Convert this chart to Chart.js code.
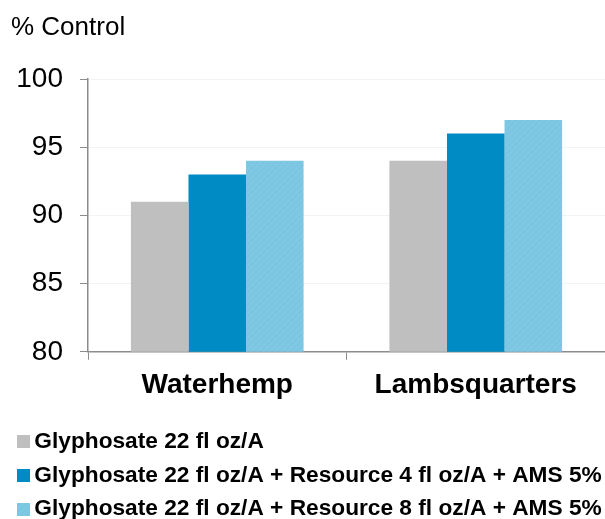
<!DOCTYPE html>
<html>
<head>
<meta charset="utf-8">
<script src="https://cdn.jsdelivr.net/npm/chart.js@4"></script>
<style>
html,body{margin:0;padding:0;background:#fff;}
#wrap{width:605px;height:519px;position:relative;}
</style>
</head>
<body>
<div id="wrap"><canvas id="c" width="605" height="519"></canvas></div>
<script>
const categories = ["Waterhemp", "Lambsquarters"];
const seriesNames = [
  "Glyphosate 22 fl oz/A",
  "Glyphosate 22 fl oz/A + Resource 4 fl oz/A + AMS 5%",
  "Glyphosate 22 fl oz/A + Resource 8 fl oz/A + AMS 5%"
];
const glyphosate = [91, 94];
const resource4 = [93, 96];
const resource8 = [94, 97];
const yTicks = [80, 85, 90, 95, 100];
const colors = ["#BFBFBF", "#008BC4", "#7FC8E4"];

const FONT = "'Liberation Sans', Arial, sans-serif";
const values = [glyphosate, resource4, resource8];

// subtle diagonal hatch for the light-blue series
function hatch(base, line) {
  const c = document.createElement('canvas');
  c.width = 6; c.height = 6;
  const g = c.getContext('2d');
  g.fillStyle = base; g.fillRect(0, 0, 6, 6);
  g.strokeStyle = line; g.lineWidth = 1;
  g.beginPath();
  g.moveTo(0, 6); g.lineTo(6, 0);
  g.moveTo(-3, 3); g.lineTo(3, -3);
  g.moveTo(3, 9); g.lineTo(9, 3);
  g.stroke();
  return g.createPattern(c, 'repeat');
}
const fills = [colors[0], colors[1], hatch(colors[2], '#79C2DF')];

// legend marker images: square sits at the right of a 15px-wide image
function marker(fill) {
  const c = document.createElement('canvas');
  c.width = 15; c.height = 13;
  const g = c.getContext('2d');
  g.fillStyle = fill;
  g.fillRect(2, 0, 13, 13);
  return c;
}
const markers = [marker(colors[0]), marker(colors[1]), marker(hatch(colors[2], '#79C2DF'))];

new Chart(document.getElementById('c'), {
  type: 'bar',
  data: {
    labels: categories,
    datasets: seriesNames.map((n, i) => ({
      label: n,
      data: values[i],
      backgroundColor: fills[i],
      borderWidth: 0,
      categoryPercentage: 0.668,
      barPercentage: 1.0
    }))
  },
  options: {
    responsive: false,
    animation: false,
    layout: { padding: { left: 11, right: 0, top: 0, bottom: -11.5 } },
    plugins: {
      title: {
        display: true,
        text: '% Control',
        align: 'start',
        color: '#000',
        font: { family: FONT, size: 26, weight: 'normal', lineHeight: 1.2 },
        padding: { top: 12, bottom: 35.8 }
      },
      legend: {
        position: 'bottom',
        align: 'start',
        labels: {
          color: '#000',
          font: { family: FONT, size: 22.7, weight: 'bold' },
          usePointStyle: true,
          boxWidth: 1,
          boxHeight: 13,
          padding: 11,
          generateLabels: (chart) => {
            const items = Chart.defaults.plugins.legend.labels.generateLabels(chart);
            items.forEach((it, i) => { it.pointStyle = markers[i]; });
            return items;
          }
        }
      },
      tooltip: { enabled: false }
    },
    scales: {
      y: {
        min: 80, max: 100,
        afterBuildTicks: s => { s.ticks = yTicks.map(v => ({ value: v })); },
        afterFit: s => { s.width = 77; },
        ticks: {
          color: '#000',
          font: { family: FONT, size: 28 },
          padding: 17
        },
        grid: {
          color: '#F3F3F3',
          tickColor: '#8C8C8C',
          tickLength: 8,
          drawTicks: true
        },
        border: { color: '#8C8C8C', width: 1.5 }
      },
      x: {
        afterFit: s => { s.height += 8; },
        ticks: {
          color: '#000',
          font: { family: FONT, size: 28, weight: 'bold' },
          padding: 9
        },
        grid: {
          display: true,
          drawOnChartArea: false,
          drawTicks: true,
          tickLength: 8,
          tickColor: '#8C8C8C',
          offset: true
        },
        border: { color: '#8C8C8C', width: 1.5 }
      }
    }
  }
});
</script>
</body>
</html>
